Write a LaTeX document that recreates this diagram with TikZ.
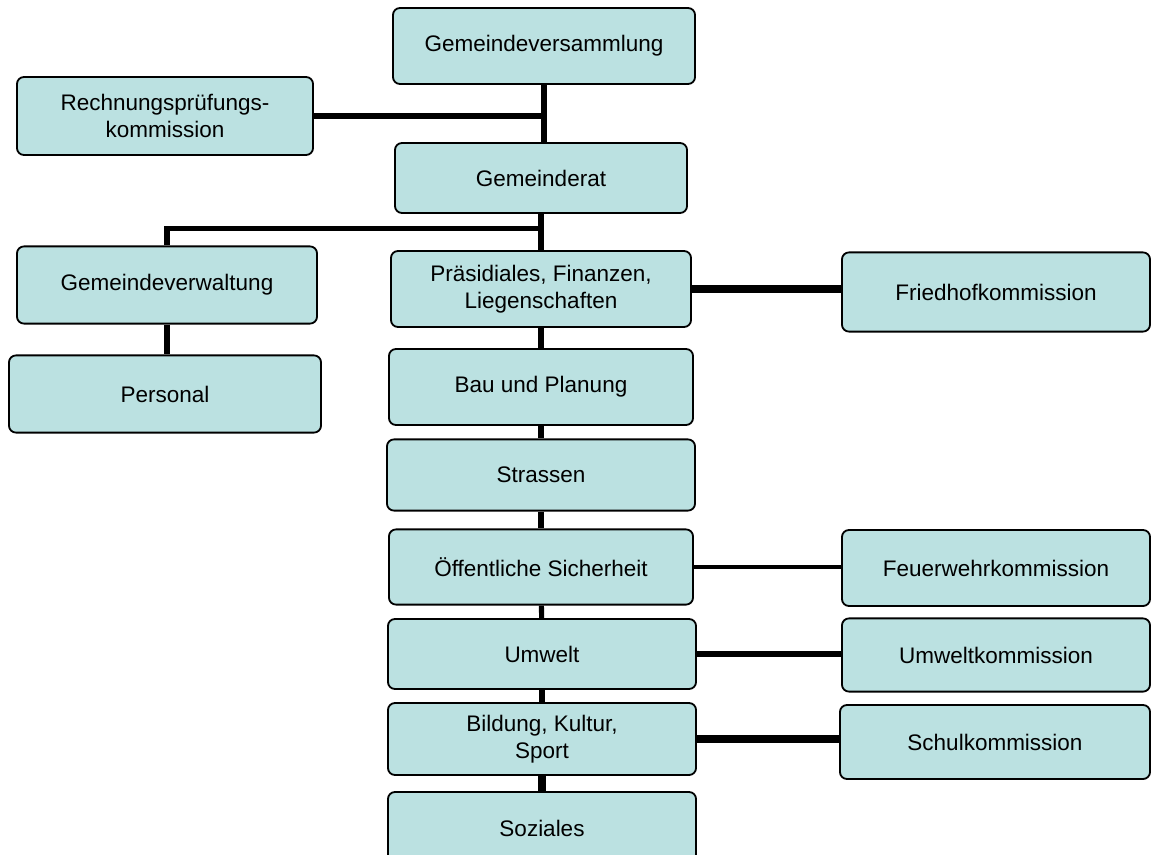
\documentclass[tikz,border=0pt]{standalone}
\usepackage{fontspec}
\setmainfont{Liberation Sans}
\usepackage{xcolor}
\usetikzlibrary{calc}

\definecolor{boxfill}{HTML}{BBE1E1}

\begin{document}
\begin{tikzpicture}[
                x = 0.025cm, % one pixel of the sheet
                y = -0.025cm, % y runs downward
                font = \fontsize{16}{19.2}\selectfont
        ]

        \tikzstyle{org}=[
            draw = black,
            line width = 1.3pt,
            fill = boxfill,
            rounded corners = 5pt,
            align = center,
            inner sep = 0pt,
            minimum width = 7.6cm,
            minimum height = 1.9cm
        ]
        \tikzstyle{link}=[line width = 3.6pt]
        \tikzstyle{heavy}=[line width = 5pt]
        \tikzstyle{light}=[line width = 3pt]

        \useasboundingbox (0,0) rectangle (1152,855);
        \clip (0,0) rectangle (1152,855);

        % top
        \node[org, minimum width=7.55cm] (GV) at (544,46) {Gemeindeversammlung};
        \node[org, minimum width=7.4cm, minimum height=1.95cm] (RPK) at (165,116) {Rechnungsprüfungs-\\kommission};
        \node[org, minimum width=7.3cm, minimum height=1.75cm] (GR) at (541,178) {Gemeinderat};

        % left branch
        \node[org, minimum width=7.5cm, minimum height=1.93cm] (GVW) at (167,285) {Gemeindeverwaltung};
        \node[org, minimum width=7.8cm, minimum height=1.93cm] (PERS) at (165,394) {Personal};

        % departments
        \node[org, minimum width=7.5cm] (PFL) at (541,289) {Präsidiales, Finanzen,\\Liegenschaften};
        \node[org] (BAU) at (541,387) {Bau und Planung};
        \node[org, minimum width=7.7cm, minimum height=1.78cm] (STR) at (541,475) {Strassen};
        \node[org, minimum height=1.88cm] (OES) at (541,567) {Öffentliche Sicherheit};
        \node[org, minimum width=7.7cm, minimum height=1.75cm] (UMW) at (542,654) {Umwelt};
        \node[org, minimum width=7.7cm, minimum height=1.8cm] (BKS) at (542,739) {Bildung, Kultur,\\Sport};
        \node[org, minimum width=7.7cm, minimum height=1.8cm] (SOZ) at (542,828) {Soziales};

        % commissions
        \node[org, minimum width=7.7cm, minimum height=1.98cm] (FHK) at (996,292) {Friedhofkommission};
        \node[org, minimum width=7.7cm] (FWK) at (996,568) {Feuerwehrkommission};
        \node[org, minimum width=7.7cm, minimum height=1.83cm] (UWK) at (996,655) {Umweltkommission};
        \node[org, minimum width=7.75cm, minimum height=1.85cm] (SKM) at (995,742) {Schulkommission};

        \coordinate (split) at ($(GR.south)!0.4!(GR.south |- PFL.north)$);

        \draw[link] (GV.south) -- (GV.south |- GR.north);
        \draw[link] (RPK.east) -- (RPK.east -| GV.south);
        \draw[link] (GR) -- (PFL);
        \draw[link] (split) -| (GVW.north);
        \draw[link] (GVW.south) -- (GVW.south |- PERS.north);

        \foreach \a/\b in {PFL/BAU, BAU/STR, STR/OES, OES/UMW, UMW/BKS}
            \draw[link] (\a) -- (\b);
        \draw[heavy] (BKS) -- (SOZ);

        \draw[heavy] (PFL.east) -- (PFL.east -| FHK.west);
        \draw[light] (OES.east) -- (OES.east -| FWK.west);
        \draw[link] (UMW.east) -- (UMW.east -| UWK.west);
        \draw[heavy] (BKS.east) -- (BKS.east -| SKM.west);

        \end{tikzpicture}
\end{document}
